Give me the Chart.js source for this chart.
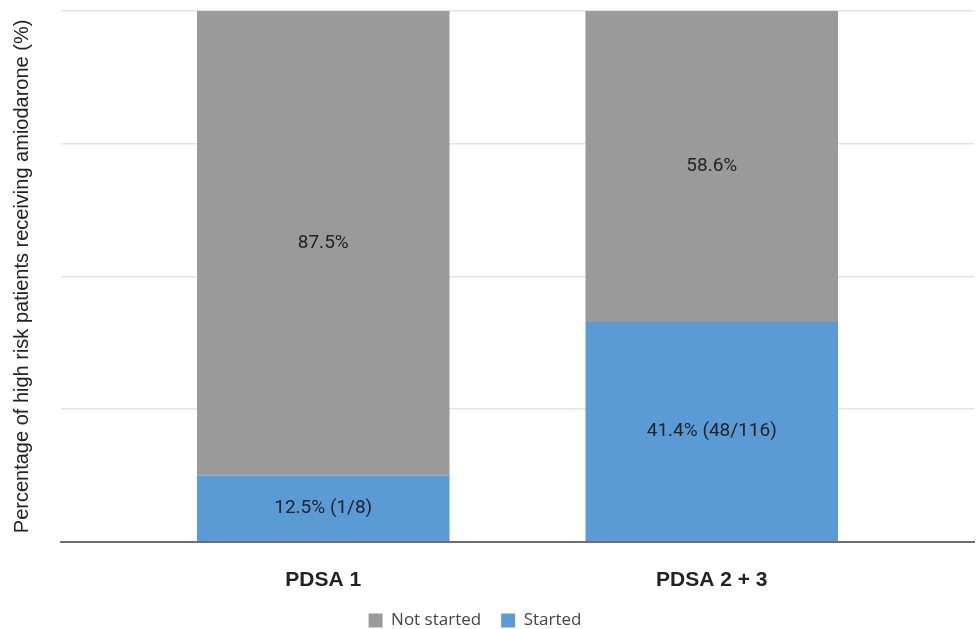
<!DOCTYPE html>
<html>
<head>
<meta charset="utf-8">
<script src="https://cdn.jsdelivr.net/npm/chart.js@4.4.1/dist/chart.umd.min.js"></script>
<style>
  html, body { margin: 0; padding: 0; background: #fff; }
  #wrap { width: 976px; height: 629px; }
</style>
</head>
<body>
<div id="wrap"><canvas id="chart" width="976" height="629"></canvas></div>
<script>
// chart data
const categories = ["PDSA 1", "PDSA 2 + 3"];
const startedPct = [12.5, 41.4];
const notStartedPct = [87.5, 58.6];
const startedLabels = ["12.5% (1/8)", "41.4% (48/116)"];
const notStartedLabels = ["87.5%", "58.6%"];
const yTicks = [0, 25, 50, 75, 100];

const GRAY = "#9a9a9a";
const BLUE = "#5b9bd5";

// bar labels drawn in the middle of each segment
const barLabels = {
    id: "barLabels",
    afterDatasetsDraw(chart) {
        const ctx = chart.ctx;
        ctx.save();
        ctx.font = "19px Roboto";
        ctx.fillStyle = "#222";
        ctx.textAlign = "center";
        ctx.textBaseline = "middle";
        chart.data.datasets.forEach((ds, di) => {
            chart.getDatasetMeta(di).data.forEach((bar, i) => {
                const mid = (bar.y + bar.base) / 2;
                ctx.fillText(ds.labels[i], bar.x, mid);
            });
        });
        ctx.restore();
    }
};

// legend sits a bit left of the canvas centre in the original
const legendShift = {
    id: "legendShift",
    afterLayout(chart) {
        chart.legend.left -= 17;
        chart.legend.right -= 17;
    }
};

let ctx = document.getElementById("chart").getContext("2d");
let chart = new Chart(ctx, {
    type: "bar",
    data: {
        datasets: [{
            label: "Started",
            data: startedPct.map((v, i) => ({ x: i + 1, y: v })),
            labels: startedLabels,
            backgroundColor: BLUE,
            barPercentage: 0.65,
            categoryPercentage: 1
        }, {
            label: "Not started",
            data: notStartedPct.map((v, i) => ({ x: i + 1, y: v })),
            labels: notStartedLabels,
            backgroundColor: GRAY,
            barPercentage: 0.65,
            categoryPercentage: 1
        }]
    },
    options: {
        responsive: false,
        animation: false,
        layout: { padding: { top: 11, right: 2, left: 10, bottom: -10 } },
        plugins: {
            tooltip: { enabled: false },
            legend: {
                position: "bottom",
                reverse: true,
                labels: {
                    boxWidth: 14,
                    boxHeight: 14,
                    padding: 20,
                    color: "#444",
                    font: { family: "'Open Sans'", size: 17 }
                }
            }
        },
        scales: {
            x: {
                type: "linear",
                stacked: true,
                offset: false,
                min: 0.325,
                max: 2.675,
                afterBuildTicks: axis => {
                    axis.ticks = categories.map((c, i) => ({ value: i + 1 }));
                },
                afterFit: axis => {
                    axis.height -= 27;
                },
                ticks: {
                    callback: v => categories[v - 1],
                    color: "#222",
                    font: { family: "'Liberation Sans'", size: 21, weight: "bold" },
                    padding: 26,
                    maxRotation: 0
                },
                grid: { display: false, drawTicks: false },
                border: { display: true, color: "#6e6e6e", width: 2 }
            },
            y: {
                stacked: true,
                min: 0,
                max: 100,
                afterBuildTicks: axis => {
                    axis.ticks = yTicks.map(v => ({ value: v }));
                },
                ticks: { display: false },
                grid: { color: "#e3e3e3", lineWidth: 1.5, drawTicks: false },
                border: { display: false },
                title: {
                    display: true,
                    text: "Percentage of high risk patients receiving amiodarone (%)",
                    color: "#222",
                    font: { family: "'Liberation Sans'", size: 20 },
                    padding: { top: 0, bottom: 27 }
                }
            }
        }
    },
    plugins: [barLabels, legendShift]
});
</script>
</body>
</html>
